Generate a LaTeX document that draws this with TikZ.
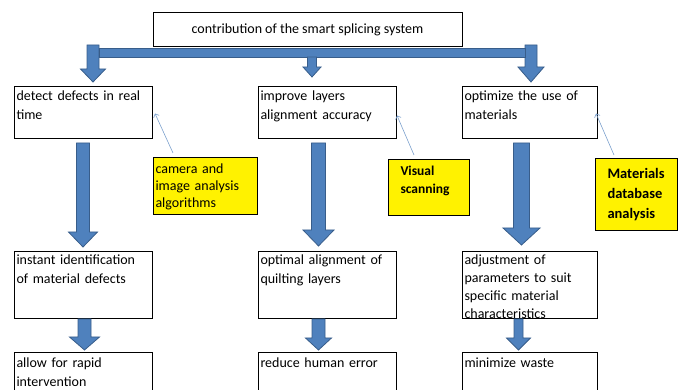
\documentclass[tikz,border=0pt]{standalone}
\usepackage{fontspec}
\setmainfont{Carlito}
\usetikzlibrary{calc,arrows.meta}
\definecolor{arrfill}{HTML}{4F81BD}
\definecolor{arrline}{HTML}{385D8A}
\definecolor{callblue}{HTML}{7BA0CD}

\newcommand\bluearrow[5]{%
  \path[blockarr] let \p1=(#1), \p2=(#2) in
    (\x1-#3,\y1) -- (\x1-#3,\y2+#5) -- (\x1-#4,\y2+#5) -- (\x1,\y2)
    -- (\x1+#4,\y2+#5) -- (\x1+#3,\y2+#5) -- (\x1+#3,\y1) -- cycle;}

\begin{document}
\begin{tikzpicture}[
x=1pt,y=-1pt,
box/.style={
  draw,
  line width=1pt,
  anchor=north west,
  align=left,
  inner xsep=2pt,
  inner ysep=0pt,
  font=\fontsize{14}{19}\selectfont
},
rowa/.style={text height=14pt,text depth=38pt},
rowb/.style={text height=13pt,text depth=54pt},
rowc/.style={text height=15pt,text depth=40pt},
note/.style={
  box,
  fill=yellow,
  font=\fontsize{14}{17}\selectfont
},
blockarr/.style={
  fill=arrfill,
  draw=arrline,
  line width=0.8pt
},
callout/.style={
  draw=callblue,
  line width=0.6pt,
  -{Straight Barb[length=3pt,width=6pt]}
}
]
\useasboundingbox (0,0) rectangle (678,390);

\node[draw,line width=1pt,minimum width=309pt,minimum height=34pt,
  inner sep=0pt,font=\fontsize{14}{17}\selectfont] at (307.5,30)
  (top) {contribution of the smart splicing system};

\node[box,rowa,text width=134pt] at (14,86)
  (det) {detect defects in real\\time};
\node[box,rowa,text width=134pt] at (258,86)
  (align) {improve layers\\alignment accuracy};
\node[box,rowa,text width=131pt] at (462,86)
  (use) {optimize the use of\\materials};

\node[box,rowb,text width=134pt] at (14,251)
  (ident) {instant identification\\of material defects};
\node[box,rowb,text width=134pt] at (258,251)
  (quilt) {optimal alignment of\\quilting layers};
\node[box,rowb,text width=131pt,font=\fontsize{14}{18}\selectfont] at (462,251)
  (param) {adjustment of\\parameters to suit\\specific material\\characteristics};

\node[box,rowc,text width=134pt] at (14,352)
  (rapid) {allow for rapid\\intervention};
\node[box,rowc,text width=134pt] at (258,352)
  (human) {reduce human error};
\node[box,rowc,text width=131pt] at (462,352)
  (waste) {minimize waste};

\node[note,text width=100pt,text height=16pt,text depth=41pt] at (153,157)
  (cam) {camera and\\image analysis\\algorithms};
\node[note,inner xsep=12pt,text width=57pt,text height=16pt,text depth=40pt,
  font=\fontsize{13.5}{18}\selectfont\bfseries] at (388,159)
  (vis) {Visual\\scanning};
\node[note,inner xsep=12pt,text width=58pt,text height=20pt,text depth=52pt,
  font=\fontsize{14.5}{20}\selectfont\bfseries] at (595,158)
  (db) {Materials\\database\\analysis};

\coordinate (barL) at (93,52.5);
\coordinate (barR) at (531,52.5);

\bluearrow{$(barL)+(0,-7.5)$}{$(det.north)+(0,-4)$}{6pt}{12.5pt}{13pt}
\bluearrow{$(barR)+(0,-7.5)$}{$(use.north)+(0,-4)$}{6pt}{13pt}{15pt}
\path[blockarr] ($(barL)+(6,-4.5)$) rectangle ($(barR)+(-6,4.5)$);
\bluearrow{$(barL)!0.5!(barR)+(0,4.5)$}{$(align.north)+(0,-9)$}{4.5pt}{9pt}{10pt}

\bluearrow{$(det.south)+(-0.5,4)$}{$(ident.north)+(0,-4)$}{6.5pt}{14.5pt}{15pt}
\bluearrow{$(align.south)+(-9,4)$}{$(quilt.north)+(0,-5)$}{7pt}{15.5pt}{16pt}
\bluearrow{$(use.south)+(-8.5,4)$}{$(param.north)+(0,-6)$}{8pt}{18.5pt}{17pt}

\bluearrow{$(ident.south)+(1,0)$}{$(rapid.north)+(0,-2)$}{6.5pt}{15pt}{13pt}
\bluearrow{$(quilt.south)+(-9,0)$}{$(human.north)+(0,-2)$}{6.5pt}{13pt}{12pt}
\bluearrow{$(param.south)+(-11.5,0)$}{$(waste.north)+(0,-2)$}{4.5pt}{12pt}{12pt}

\draw[callout] ($(cam.north west)+(20,-4)$) -- ($(det.east)+(2,1)$);
\draw[callout] ($(vis.north west)+(26,-4)$) -- ($(align.east)+(0,3)$);
\draw[callout] ($(db.north west)+(19,-3)$) -- ($(use.east)+(-2,1)$);
\end{tikzpicture}
\end{document}
